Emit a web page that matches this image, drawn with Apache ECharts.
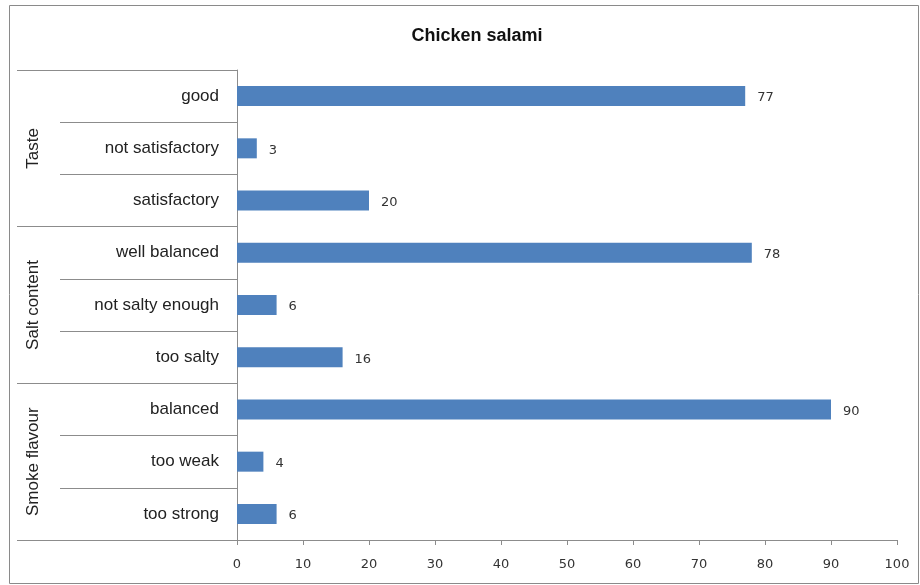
<!DOCTYPE html>
<html>
<head>
<meta charset="utf-8">
<script src="https://cdn.jsdelivr.net/npm/echarts@6/dist/echarts.min.js"></script>
<style>html,body{margin:0;padding:0;background:#fff}#c{width:920px;height:585px}</style>
</head>
<body>
<div id="c"></div>
<script>
var categories = ['good','not satisfactory','satisfactory','well balanced','not salty enough','too salty','balanced','too weak','too strong'];
var groups = ['Taste','Salt content','Smoke flavour'];
var values = [77,3,20,78,6,16,90,4,6];
var xTicks = [0,10,20,30,40,50,60,70,80,90,100];

var chart = echarts.init(document.getElementById('c'));
var lineColor = '#8c8c8c';
chart.setOption({
  animation:false,
  backgroundColor:'#fff',
  title:{text:'Chicken salami',left:472,top:22,textAlign:'center',textStyle:{fontFamily:'Liberation Sans',fontSize:18,fontWeight:'bold',color:'#111'}},
  graphic:[{type:'rect',shape:{x:9.5,y:5.5,width:909,height:578},style:{fill:null,stroke:'#8a8a8a',lineWidth:1},silent:true}],
  grid:{left:237,right:23,top:70,bottom:45},
  xAxis:{type:'value',min:xTicks[0],max:xTicks[xTicks.length-1],interval:10,
    axisLine:{show:true,lineStyle:{color:lineColor}},
    axisTick:{show:true,length:5,lineStyle:{color:lineColor}},
    splitLine:{show:false},
    axisLabel:{margin:18,fontFamily:'DejaVu Sans',fontSize:13,color:'#333'}},
  yAxis:[
    {type:'category',data:categories,inverse:true,position:'left',
      axisLine:{show:true,lineStyle:{color:lineColor}},
      axisTick:{show:true,length:177,lineStyle:{color:lineColor}},
      axisLabel:{margin:18,fontFamily:'Liberation Sans',fontSize:17,color:'#222'}},
    {type:'category',data:groups,inverse:true,position:'left',
      axisLine:{show:false},
      axisTick:{show:true,length:220,lineStyle:{color:lineColor}},
      axisLabel:{margin:195,rotate:90,fontFamily:'Liberation Sans',fontSize:17,color:'#222'}}
  ],
  series:[{type:'bar',data:values,yAxisIndex:0,barWidth:20,
    itemStyle:{color:'#4f81bd'},
    label:{show:true,position:'right',distance:12,offset:[0,2],fontFamily:'DejaVu Sans',fontSize:13,color:'#333'}}]
});
</script>
</body>
</html>
